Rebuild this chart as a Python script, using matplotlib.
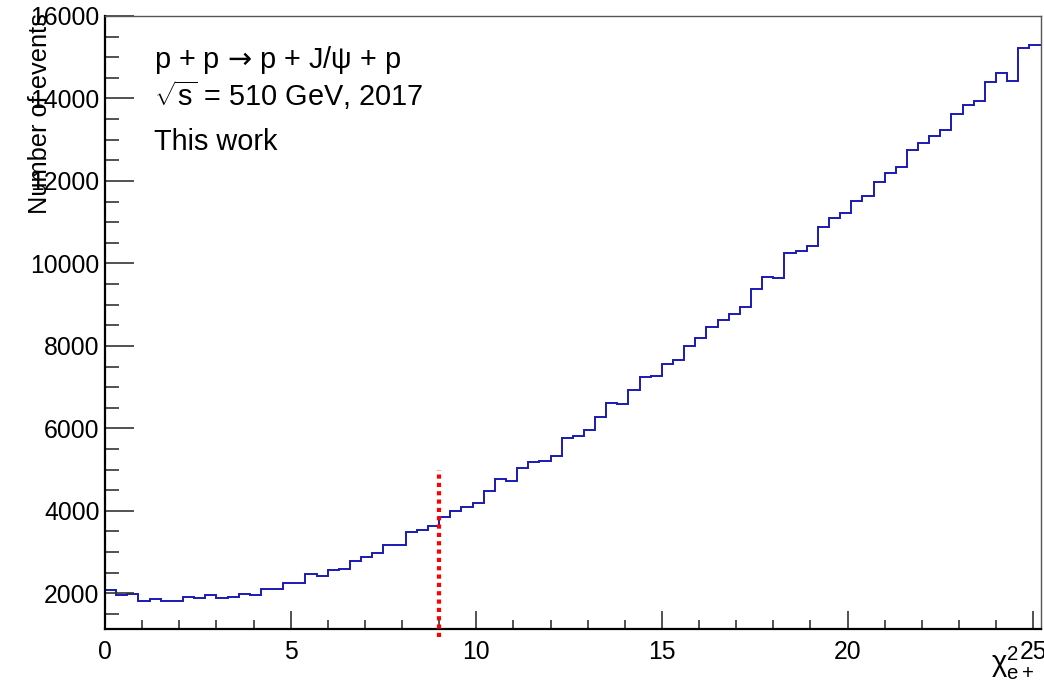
import numpy as np
import matplotlib
matplotlib.use("Agg")
import matplotlib.pyplot as plt
from matplotlib.ticker import MultipleLocator

plt.rcParams['font.family'] = ['Liberation Sans', 'DejaVu Sans']
plt.rcParams['mathtext.fontset'] = 'custom'
plt.rcParams['mathtext.rm'] = 'Liberation Sans'
plt.rcParams['mathtext.it'] = 'Liberation Sans:italic'
plt.rcParams['mathtext.sf'] = 'DejaVu Sans'

# histogram: 84 bins of width 0.3 from 0 to 25.2
bin_lo = 0.0
bin_hi = 25.2
counts = [2090, 1966, 1995, 1820, 1860, 1820, 1820, 1918, 1894, 1966,
          1894, 1918, 1990, 1950, 2110, 2095, 2242, 2242, 2460, 2426,
          2560, 2596, 2782, 2879, 2980, 3173, 3173, 3484, 3525, 3622,
          3840, 4000, 4097, 4194, 4480, 4770, 4730, 5045, 5185, 5220,
          5340, 5768, 5816, 5954, 6286, 6625, 6595, 6922, 7237, 7269,
          7560, 7657, 8005, 8199, 8455, 8617, 8780, 8940, 9375, 9675,
          9641, 10247, 10312, 10433, 10886, 11111, 11216, 11523, 11627, 11975,
          12200, 12339, 12750, 12910, 13097, 13222, 13613, 13831, 13937, 14387,
          14615, 14421, 15210, 15293]

cut_x = 9.0
cut_y = [950, 5000]

x_title = r"$\mathrm{\chi}^{2}_{\mathrm{e+}}$"
y_title = "Number of events"
info_lines = ["p + p $\\mathsf{\u2192}$ p + J/$\\mathrm{\\psi}$ + p",
              r"$\sqrt{\mathrm{s}}$ = 510 GeV, 2017",
              "This work"]

fig = plt.figure(figsize=(10.44, 6.86), dpi=100)
ax = fig.add_axes([105 / 1044, 1 - 629 / 686, (1040.6 - 105) / 1044, (629 - 15.7) / 686])

edges = np.linspace(bin_lo, bin_hi, len(counts) + 1)
ax.stairs(counts, edges, color='#1a1ab4', linewidth=1.4, baseline=None)

# dotted cut line, runs a little below the x axis like the original
ax.plot([cut_x, cut_x], cut_y, color='#ff0000', linewidth=3,
        linestyle=(0, (1, 1)), clip_on=False, zorder=5)

ax.set_xlim(bin_lo, bin_hi)
ax.set_ylim(1136, 16005)

ax.xaxis.set_major_locator(MultipleLocator(5))
ax.xaxis.set_minor_locator(MultipleLocator(1))
ax.yaxis.set_major_locator(MultipleLocator(2000))
ax.yaxis.set_minor_locator(MultipleLocator(500))

ax.tick_params(axis='y', which='major', direction='in', length=21, width=1.2,
               labelsize=17.8, pad=4, color='#333333')
ax.tick_params(axis='y', which='minor', direction='in', length=10, width=1.2,
               color='#333333')
ax.tick_params(axis='x', which='major', direction='in', length=13, width=1.2,
               labelsize=17.8, pad=8, color='#333333')
ax.tick_params(axis='x', which='minor', direction='in', length=6.5, width=1.2,
               color='#333333')

ax.spines['left'].set_linewidth(1.6)
ax.spines['bottom'].set_linewidth(1.6)
ax.spines['top'].set_linewidth(1.0)
ax.spines['right'].set_linewidth(1.0)
ax.spines['top'].set_color('#555555')
ax.spines['right'].set_color('#555555')

fig.text(40 / 1044, 1 - 13 / 686, y_title, rotation=90, ha='center', va='top',
         fontsize=18.3)
fig.text(1034 / 1044, 1 - 645 / 686, x_title, ha='right', va='top', fontsize=21)

baselines = [68, 106, 150]
for line, yb in zip(info_lines, baselines):
    fig.text(154 / 1044, 1 - yb / 686, line, ha='left', va='baseline', fontsize=20.8)

fig.savefig('out.png', dpi=100)
